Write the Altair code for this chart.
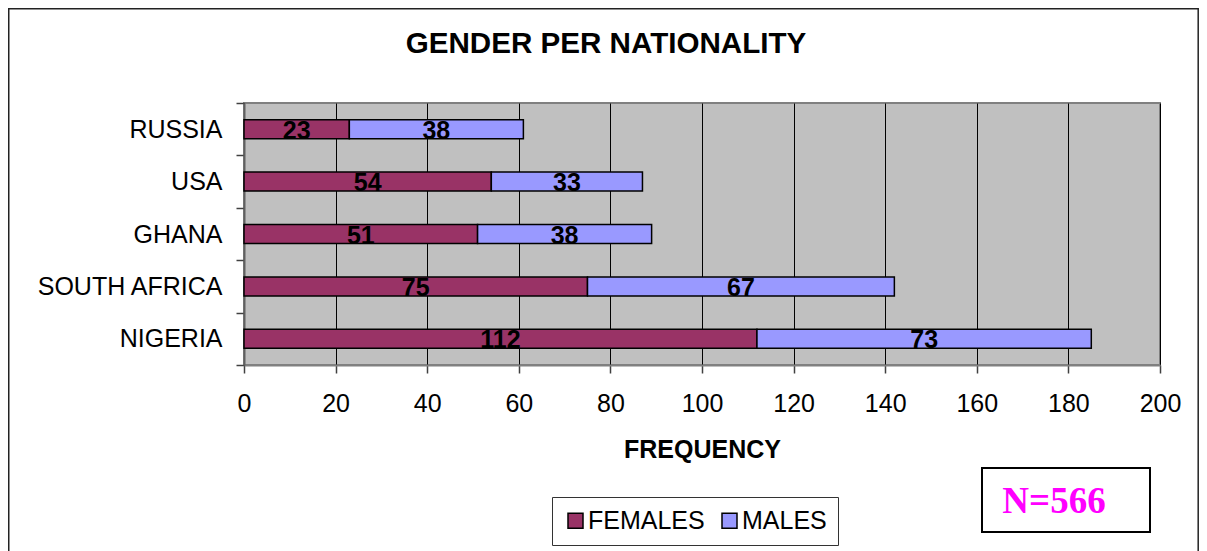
import altair as alt
import pandas as pd

COUNTRIES = ["RUSSIA", "USA", "GHANA", "SOUTH AFRICA", "NIGERIA"]
FEMALES = [23, 54, 51, 75, 112]
MALES = [38, 33, 38, 67, 73]
SERIES = ["FEMALES", "MALES"]
COLORS = ["#993366", "#9999FF"]
X_TICKS = [0, 20, 40, 60, 80, 100, 120, 140, 160, 180, 200]
TITLE = "GENDER PER NATIONALITY"
X_TITLE = "FREQUENCY"
N_LABEL = "N=566"

FONT = "Liberation Sans"

rows = []
for i, c in enumerate(COUNTRIES):
    rows.append({"country": c, "gender": SERIES[0], "value": FEMALES[i], "ord": 0})
    rows.append({"country": c, "gender": SERIES[1], "value": MALES[i], "ord": 1})
df = pd.DataFrame(rows)

one = pd.DataFrame({"a": [0]})

y_enc = alt.Y(
    "country:N",
    sort=COUNTRIES,
    scale=alt.Scale(paddingInner=0, paddingOuter=0),
    axis=alt.Axis(
        title=None,
        labelFont=FONT,
        labelFontSize=25,
        labelColor="black",
        labelPadding=14,
        labelLimit=400,
        tickSize=8,
        tickColor="#404040",
        tickWidth=1.5,
        tickBand="extent",
        domainColor="#606060",
        domainWidth=2,
        grid=False,
    ),
)

x_enc = alt.X(
    "value:Q",
    stack="zero",
    scale=alt.Scale(domain=[0, 200], nice=False),
    axis=alt.Axis(
        values=X_TICKS,
        title=X_TITLE,
        titleFont=FONT,
        titleFontSize=25,
        titleFontWeight="bold",
        titleColor="black",
        titleX=458,
        titleY=92,
        titleBaseline="alphabetic",
        titleAlign="center",
        labelFont=FONT,
        labelFontSize=25,
        labelColor="black",
        labelPadding=18,
        labelFlush=False,
        labelOverlap=False,
        tickSize=8,
        tickColor="#404040",
        tickWidth=1.5,
        domainColor="#808080",
        domainWidth=2,
        grid=True,
        gridColor="black",
        gridWidth=1,
        gridOpacity=1,
    ),
)

bars = alt.Chart(df).mark_bar(size=19, stroke="black", strokeWidth=1.5).encode(
    x=x_enc,
    y=y_enc,
    color=alt.Color(
        "gender:N",
        scale=alt.Scale(domain=SERIES, range=COLORS),
        legend=alt.Legend(
            title=None,
            orient="none",
            legendX=308,
            legendY=394,
            direction="horizontal",
            symbolType="square",
            symbolSize=225,
            symbolStrokeColor="black",
            symbolStrokeWidth=1.5,
            symbolOpacity=1,
            labelFont=FONT,
            labelFontSize=25,
            labelColor="black",
            labelOffset=0,
            columnPadding=12,
            padding=11,
            strokeColor="#333333",
            fillColor="white",
        ),
    ),
    order=alt.Order("ord:Q"),
)

labels = (
    alt.Chart(df)
    .transform_window(
        cum="sum(value)",
        groupby=["country"],
        sort=[alt.SortField("ord")],
        frame=[None, 0],
    )
    .transform_calculate(mid="datum.cum - datum.value / 2")
    .mark_text(
        font=FONT, fontSize=25, fontWeight="bold", color="black",
        baseline="middle", align="center", dy=1.5,
    )
    .encode(
        x=alt.X("mid:Q", stack=None),
        y=alt.Y("country:N", sort=COUNTRIES),
        text="value:Q",
    )
)

title = alt.Chart(pd.DataFrame({"t": [TITLE]})).mark_text(
    font=FONT, fontSize=29.6, fontWeight="bold", color="black",
    align="center", baseline="alphabetic",
).encode(text="t:N", x=alt.value(362), y=alt.value(-50))

n_box = alt.Chart(one).mark_rect(fill="white", stroke="black", strokeWidth=2).encode(
    x=alt.value(738), x2=alt.value(906), y=alt.value(365), y2=alt.value(429)
)
n_text = alt.Chart(pd.DataFrame({"t": [N_LABEL]})).mark_text(
    font="Liberation Serif", fontSize=37, fontWeight="bold", color="#FF00FF",
    align="center", baseline="alphabetic",
).encode(text="t:N", x=alt.value(810), y=alt.value(410))

frame_top = alt.Chart(one).mark_rule(color="#222222", strokeWidth=1.5).encode(
    x=alt.value(-235.25), x2=alt.value(954.2), y=alt.value(-94.25)
)
frame_left = alt.Chart(one).mark_rule(color="#222222", strokeWidth=1.5).encode(
    x=alt.value(-235.25), y=alt.value(-95), y2=alt.value(460)
)
frame_right = alt.Chart(one).mark_rule(color="#222222", strokeWidth=1.5).encode(
    x=alt.value(954.2), y=alt.value(-95), y2=alt.value(460)
)

chart = (
    alt.layer(bars, labels, title, n_box, n_text, frame_top, frame_left, frame_right)
    .properties(
        width=916,
        height=262,
        autosize=alt.AutoSizeParams(type="none"),
        padding={"left": 236, "top": 95, "right": 39, "bottom": 186},
        background="white",
    )
    .configure_view(fill="#C0C0C0", stroke="#808080", strokeWidth=2)
)

chart.save("out.html", embed_options={"renderer": "svg", "actions": False})
